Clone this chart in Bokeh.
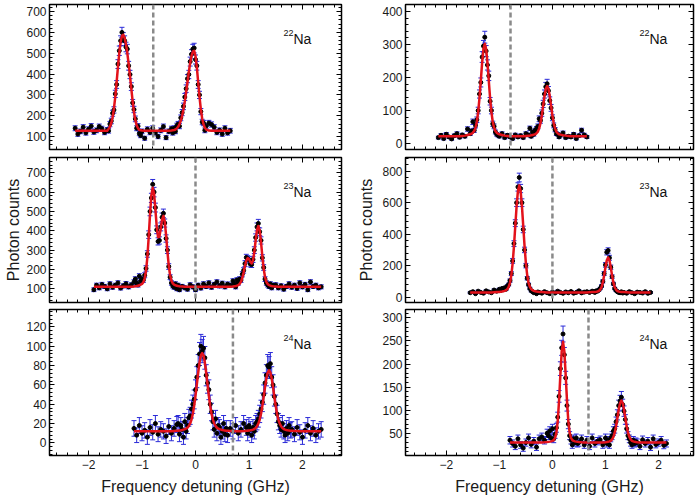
import numpy as np
from bokeh.plotting import figure
from bokeh.models import (Range1d, LinearAxis, Span, Label, SingleIntervalTicker,
                          CustomJSTickFormatter)
from bokeh.layouts import column, row
from bokeh.embed import file_html
from bokeh.resources import INLINE

# ---------------- data ----------------
ISOTOPES = ["22", "23", "24"]
X_LABEL = "Frequency detuning (GHz)"
Y_LABEL = "Photon counts"

# 22Na, left column
L1_x = [-2.25,-2.2,-2.15,-2.1,-2.05,-2.0,-1.95,-1.9,-1.85,-1.8,-1.75,-1.7,-1.65,
        -1.625,-1.6,-1.575,-1.55,-1.525,-1.5,-1.475,-1.45,-1.425,-1.4,-1.375,-1.35,-1.325,-1.3,-1.275,-1.25,-1.225,-1.2,-1.175,-1.15,-1.125,-1.1,-1.075,-1.05,-1.025,-1.0,
        -0.95,-0.9,-0.85,-0.8,-0.75,-0.7,-0.65,-0.6,-0.55,-0.5,-0.45,
        -0.425,-0.4,-0.375,-0.35,-0.325,-0.3,-0.275,-0.25,-0.225,-0.2,-0.175,-0.15,-0.125,-0.1,-0.075,-0.05,-0.025,0.0,0.025,0.05,0.075,0.1,0.125,0.15,0.175,0.2,
        0.25,0.3,0.35,0.4,0.45,0.5,0.55,0.6,0.65]
L1_y = [140,112,125,145,118,135,150,122,130,148,138,120,132,
        128,160,175,212,228,305,350,448,512,560,600,575,560,530,520,440,398,340,262,230,185,140,150,115,105,125,
        92,135,120,140,118,100,130,148,95,125,138,
        118,140,125,152,160,150,190,215,245,290,330,378,398,460,495,520,525,470,440,350,300,220,170,165,130,150,
        165,158,145,120,130,112,140,118,128]
L1_fit = [128,128,128,128,128,128,128,128,128,128,128,128,128,
          137,147,165,193,235,291,361,434,501,554,583,589,573,543,501,449,391,329,269,217,179,154,140,132,130,129,
          128,128,128,128,128,128,128,128,128,128,129,
          130,131,134,139,147,159,176,200,231,269,314,362,409,453,487,508,512,487,432,362,291,231,186,159,142,134,
          129,128,128,128,128,128,128,128,128]

# 22Na, right column
R1_x = [-2.15,-2.1,-2.05,-2.0,-1.95,-1.9,-1.85,-1.8,-1.75,-1.7,-1.65,-1.6,-1.55,
        -1.525,-1.5,-1.475,-1.45,-1.425,-1.4,-1.375,-1.35,-1.325,-1.3,-1.275,-1.25,-1.225,-1.2,-1.175,-1.15,-1.125,-1.1,-1.075,-1.05,-1.025,
        -1.0,-0.95,-0.9,-0.85,-0.8,-0.75,-0.7,-0.65,-0.6,-0.55,-0.5,-0.45,
        -0.425,-0.4,-0.375,-0.35,-0.325,-0.3,-0.275,-0.25,-0.225,-0.2,-0.175,-0.15,-0.125,-0.1,-0.075,-0.05,-0.025,0.0,0.025,0.05,0.075,0.1,0.125,
        0.15,0.2,0.25,0.3,0.35,0.4,0.45,0.5,0.55,0.6,0.65]
R1_y = [18,25,15,28,20,14,24,30,19,26,22,44,30,
        38,66,40,55,72,100,150,185,262,295,322,280,238,205,128,100,60,52,35,28,25,
        22,30,18,25,20,15,26,20,24,18,30,26,
        46,22,35,28,40,45,52,75,70,92,120,150,172,181,160,130,108,78,55,42,30,28,20,
        25,32,18,22,20,28,15,24,40,26,20]
R1_fit = [22,22,22,22,22,22,22,22,22,23,24,26,28,
          30,33,38,48,66,95,138,191,245,287,302,287,245,191,138,95,66,48,38,33,30,
          28,26,24,23,22,22,22,22,22,22,23,24,
          24,25,26,27,28,31,36,46,62,85,114,143,166,174,166,143,114,85,62,46,36,31,28,
          27,25,24,23,22,22,22,22,22,22,22]

# 23Na, left column
L2_x = [-1.9,-1.85,-1.8,-1.75,-1.7,-1.65,-1.6,-1.55,-1.5,-1.45,-1.4,-1.35,-1.3,-1.25,-1.2,-1.15,
        -1.125,-1.1,-1.075,-1.05,-1.025,-1.0,-0.975,-0.95,-0.925,-0.9,-0.875,-0.85,-0.825,-0.8,-0.775,-0.75,-0.725,-0.7,-0.675,-0.65,-0.625,-0.6,-0.575,-0.55,-0.525,-0.5,-0.475,-0.45,-0.425,-0.4,-0.375,-0.35,-0.325,-0.3,
        -0.25,-0.2,-0.15,-0.1,-0.05,0.0,0.05,0.1,0.15,0.2,0.25,0.3,0.35,0.4,0.45,0.5,0.55,0.6,0.65,0.7,
        0.725,0.75,0.775,0.8,0.825,0.85,0.875,0.9,0.925,0.95,0.975,1.0,1.025,1.05,1.075,1.1,1.125,1.15,1.175,1.2,1.225,1.25,1.275,1.3,1.325,1.35,1.375,1.4,1.425,1.45,
        1.5,1.55,1.6,1.65,1.7,1.75,1.8,1.85,1.9,1.95,2.0,2.05,2.1,2.15,2.2,2.25,2.3,2.35]
L2_y = [95,118,105,122,112,100,125,108,118,130,104,115,126,110,120,135,
        150,130,120,165,140,150,145,170,205,280,380,500,570,640,600,520,405,345,350,420,470,490,440,360,300,215,160,130,115,108,125,100,118,95,
        112,105,98,120,110,95,118,104,125,112,130,108,122,135,115,128,110,124,118,140,
        125,110,145,130,150,145,175,195,230,262,255,250,228,225,252,300,365,420,438,395,350,260,210,150,130,120,112,125,105,118,
        120,105,115,98,112,125,108,118,102,130,110,122,95,135,112,118,105,110]
L2_fit = [110,110,110,110,110,110,110,110,110,110,110,110,110,111,111,112,
          113,114,116,118,121,125,134,154,193,264,367,486,584,623,593,510,421,367,369,411,459,477,447,377,293,220,170,142,128,121,118,116,114,113,
          112,111,110,110,110,110,110,110,110,110,110,110,110,110,110,110,110,110,111,112,
          113,114,116,119,125,136,156,185,218,246,259,254,239,231,246,290,351,405,425,401,341,268,204,161,136,124,119,116,114,113,
          112,111,110,110,110,110,110,110,110,110,110,110,110,110,110,110,110,110]

# 23Na, right column
R2_x = [-1.55,-1.5,-1.45,-1.4,-1.35,-1.3,-1.25,-1.2,-1.15,-1.1,-1.05,-1.0,
        -0.975,-0.95,-0.925,-0.9,-0.875,-0.85,-0.825,-0.8,-0.775,-0.75,-0.725,-0.7,-0.675,-0.65,-0.625,-0.6,-0.575,-0.55,-0.525,-0.5,-0.475,-0.45,-0.425,-0.4,-0.375,-0.35,-0.325,-0.3,-0.275,
        -0.25,-0.2,-0.15,-0.1,-0.05,0.0,0.05,0.1,0.15,0.2,0.25,0.3,0.35,0.4,0.45,0.5,0.55,0.6,0.65,0.7,0.75,
        0.775,0.8,0.825,0.85,0.875,0.9,0.925,0.95,0.975,1.0,1.025,1.05,1.075,1.1,1.125,1.15,1.175,1.2,1.225,1.25,1.275,1.3,1.325,
        1.35,1.4,1.45,1.5,1.55,1.6,1.65,1.7,1.75,1.8,1.85]
R2_y = [28,35,22,38,30,25,40,33,28,45,38,50,
        42,55,48,60,50,70,80,105,150,230,340,470,600,700,760,690,600,430,300,200,120,80,55,40,35,28,30,22,33,
        30,25,35,28,22,32,26,38,30,24,33,28,36,25,30,40,27,32,35,30,38,
        35,30,40,38,45,55,70,100,150,205,285,296,250,190,130,85,55,42,35,30,28,34,26,
        30,25,35,28,22,32,30,26,35,24,30]
R2_fit = [30,30,30,30,30,30,30,30,30,31,32,33,
          35,36,38,40,44,51,65,91,139,215,323,452,580,675,710,675,580,452,323,215,139,91,65,51,44,40,38,36,35,
          33,32,31,30,30,30,30,30,30,30,30,30,30,30,30,30,30,30,30,31,32,
          32,33,34,36,39,47,62,92,137,190,234,252,234,190,137,92,62,47,39,36,34,33,32,
          32,31,30,30,30,30,30,30,30,30,30]

# 24Na, left column
L3_x = [-1.15,-1.1,-1.05,-1.0,-0.95,-0.9,-0.85,-0.8,-0.75,-0.7,-0.65,-0.6,-0.55,-0.5,-0.45,-0.4,-0.35,
        -0.325,-0.3,-0.275,-0.25,-0.225,-0.2,-0.175,-0.15,-0.125,-0.1,-0.075,-0.05,-0.025,0.0,0.025,0.05,0.075,0.1,0.125,0.15,0.175,0.2,0.225,0.25,0.275,0.3,0.325,0.35,0.375,0.4,0.425,0.45,0.475,0.5,0.525,0.55,0.575,
        0.6,0.65,0.7,0.75,0.8,0.85,0.9,0.95,
        0.975,1.0,1.025,1.05,1.075,1.1,1.125,1.15,1.175,1.2,1.225,1.25,1.275,1.3,1.325,1.35,1.375,1.4,1.425,1.45,1.475,1.5,1.525,1.55,1.575,1.6,1.625,1.65,1.675,1.7,1.725,1.75,1.775,
        1.8,1.85,1.9,1.95,2.0,2.05,2.1,2.15,2.2,2.25,2.3,2.35]
L3_y = [15,8,18,10,13,6,16,11,20,9,14,12,7,17,10,15,19,
        20,9,18,14,6,22,12,18,26,28,35,40,45,55,68,80,92,100,95,98,88,70,62,55,40,32,22,14,25,10,18,16,6,12,20,9,15,
        8,15,12,18,10,14,20,16,
        10,18,14,8,16,12,20,22,25,30,35,42,50,62,70,80,78,82,68,60,48,40,30,22,18,14,20,12,8,15,10,18,13,
        14,9,16,11,6,13,18,10,15,8,12,14]
L3_fit = [12,12,12,12,12,12,12,12,12,12,12,12,12,12,12.2,12.4,12.6,
          12.7,12.9,13.1,13.4,13.8,14.2,14.9,15.8,17.6,20.1,24.2,30.1,38.3,48.7,60.5,72.6,83.1,90.5,93,90.5,83.1,72.6,60.5,48.7,38.3,30.1,24.2,20.1,17.6,15.8,14.9,14.2,13.8,13.4,13.1,12.9,12.7,
          12.6,12.4,12.3,12.2,12.2,12.2,12.3,12.5,
          12.7,12.9,13.1,13.4,13.8,14.4,15.5,17.3,19.9,24.2,30.2,38.2,47.7,57.7,66.5,72.8,75,72.8,66.5,57.7,47.7,38.2,30.2,24.2,19.9,17.3,15.5,14.4,13.8,13.4,13.1,12.9,12.7,
          12.6,12.4,12.3,12,12,12,12,12,12,12,12,12]

# 24Na, right column
R3_x = [-0.8,-0.75,-0.7,-0.65,-0.6,-0.55,-0.5,-0.45,-0.4,-0.35,-0.3,-0.25,-0.2,-0.15,-0.1,
        -0.075,-0.05,-0.025,0.0,0.025,0.05,0.075,0.1,0.125,0.15,0.175,0.2,0.225,0.25,0.275,0.3,0.325,0.35,0.375,0.4,0.425,0.45,0.475,
        0.5,0.55,0.6,0.65,0.7,0.75,0.8,0.85,0.9,0.95,1.0,
        1.025,1.05,1.075,1.1,1.125,1.15,1.175,1.2,1.225,1.25,1.275,1.3,1.325,1.35,1.375,1.4,1.425,1.45,1.475,1.5,1.525,1.55,1.575,
        1.6,1.65,1.7,1.75,1.8,1.85,1.9,1.95,2.0,2.05,2.1,2.15]
R3_y = [35,28,22,38,25,18,30,40,26,33,20,38,42,35,50,
        45,55,40,60,38,48,62,85,130,190,235,265,220,170,110,70,45,35,25,38,30,40,28,
        30,38,25,35,22,40,28,33,36,25,40,
        28,35,25,40,45,55,60,75,90,110,120,128,112,98,80,60,45,38,30,25,35,28,32,
        30,22,36,28,33,20,38,26,30,35,24,28]
R3_fit = [30,30,30,30,30,30,30,30,30,30,30,30,30.2,30.5,31.1,
          31.5,32,32.6,33.6,35.3,40,51.6,76.5,120.1,176.6,227.3,248,227.3,176.6,120.1,76.5,51.6,40,35.3,33.6,32.6,32,31.5,
          31.1,30.5,30.2,30,30,30,30,30,30.2,30.4,30.8,
          31.1,31.6,32.5,33.9,36.7,42.2,51.5,65.4,83.2,101.6,115.6,121,115.6,101.6,83.2,65.4,51.5,42.2,36.7,33.9,32.5,31.6,31.1,
          30.8,30.4,30.2,30,30,30,30,30,30,30,30,30]

# background added to counts for the statistical error bars
ERR_BG = [0, 0, 0, 0, 50, 30]
# reference (dashed) line positions, GHz
REF_LINES = [-0.79, -0.79, 0.0, 0.0, 0.70, 0.68]
# y-axis tick interval per panel
Y_TICK_STEP = [100, 100, 100, 200, 20, 50]

# ---------------- layout / style ----------------
X_RANGES = [(-2.73, 2.73), (-2.77, 2.66)]
Y_RANGES = [(38, 734), (-18, 421), (29, 779), (-34, 887), (-13, 138), (2, 318)]
FONT = "Liberation Sans"
BLUE = "#2a2ad8"
RED = "#e3121b"
GREY = "#8a8a8a"

PANELS = [
    (L1_x, L1_y, L1_fit), (R1_x, R1_y, R1_fit),
    (L2_x, L2_y, L2_fit), (R2_x, R2_y, R2_fit),
    (L3_x, L3_y, L3_fit), (R3_x, R3_y, R3_fit),
]
for i, (xx, yy, ff) in enumerate(PANELS):
    if not (len(xx) == len(yy) == len(ff)):
        raise SystemExit(f"panel {i}: lengths {len(xx)} {len(yy)} {len(ff)}")

HEIGHTS = [153, 153, 195]
BTOP = [4, 4, 3]
BBOT = [4, 4, 46]
BLEFT = [49, 55]
BRIGHT = [9, 7]
W = 350

blank = "return ''"
minus_fmt = "return (tick < 0 ? '\u2212' : '') + Math.abs(tick).toFixed(0);"


def style_axis(ax, show_labels):
    ax.axis_line_color = None
    ax.major_tick_in = 5
    ax.major_tick_out = 0
    ax.minor_tick_in = 3
    ax.minor_tick_out = 0
    ax.major_tick_line_color = "black"
    ax.minor_tick_line_color = "black"
    ax.major_label_text_font = FONT
    ax.major_label_text_font_size = "12px"
    ax.major_label_text_color = "#1a1a1a"
    ax.axis_label_text_font = FONT
    ax.axis_label_text_font_size = "16px"
    ax.axis_label_text_font_style = "normal"
    ax.axis_label_text_color = "#1a1a1a"
    if not show_labels:
        ax.formatter = CustomJSTickFormatter(code=blank)
        ax.major_label_text_font_size = "0px"
        ax.major_label_standoff = 0


def make_panel(idx):
    r, c = divmod(idx, 2)
    xx, yy, ff = PANELS[idx]
    x0, x1 = X_RANGES[c]
    y0, y1 = Y_RANGES[idx]
    p = figure(width=W, height=HEIGHTS[r], output_backend="svg", toolbar_location=None,
               x_range=Range1d(x0, x1), y_range=Range1d(y0, y1),
               min_border_left=BLEFT[c], min_border_right=BRIGHT[c],
               min_border_top=BTOP[r], min_border_bottom=BBOT[r],
               background_fill_color="white", border_fill_color="white")
    p.grid.visible = False
    p.outline_line_color = "black"
    p.outline_line_width = 1.5

    # bottom axis
    xa = p.xaxis[0]
    xa.ticker = SingleIntervalTicker(interval=1, num_minor_ticks=5)
    style_axis(xa, r == 2)
    if r == 2:
        xa.formatter = CustomJSTickFormatter(code=minus_fmt)
        xa.major_label_standoff = 4
        xa.axis_label = X_LABEL
        xa.axis_label_standoff = 6
    # left axis
    ya = p.yaxis[0]
    ya.ticker = SingleIntervalTicker(interval=Y_TICK_STEP[idx], num_minor_ticks=5)
    style_axis(ya, True)
    ya.major_label_standoff = 3
    if r == 1:
        ya.axis_label = Y_LABEL
        ya.axis_label_standoff = 1 if c == 0 else 4
    # mirrored ticks (top / right)
    top = LinearAxis(ticker=SingleIntervalTicker(interval=1, num_minor_ticks=5))
    style_axis(top, False)
    p.add_layout(top, "above")
    rt = LinearAxis(ticker=SingleIntervalTicker(interval=Y_TICK_STEP[idx], num_minor_ticks=5))
    style_axis(rt, False)
    p.add_layout(rt, "right")

    x = np.array(xx, dtype=float)
    y = np.array(yy, dtype=float)
    err = np.sqrt(y + ERR_BG[idx])
    lo, hi = y - err, y + err

    p.segment(x0=x, y0=lo, x1=x, y1=hi, line_color=BLUE, line_width=1)
    p.scatter(x, hi, marker="dash", size=5, line_color=BLUE, line_width=1)
    p.scatter(x, lo, marker="dash", size=5, line_color=BLUE, line_width=1)
    p.scatter(x, y, size=4, fill_color="black", line_color="black")
    p.line(x, ff, line_color=RED, line_width=2.5, line_join="round")

    p.add_layout(Span(location=REF_LINES[idx], dimension="height", line_color=GREY,
                      line_width=2.5, line_dash="5 3"))

    fw = W - BLEFT[c] - BRIGHT[c]
    fh = HEIGHTS[r] - BTOP[r] - BBOT[r]
    xna = x0 + 244.0 / fw * (x1 - x0)
    yna = y1 - 34.0 / fh * (y1 - y0)
    ysup = y1 - 28.5 / fh * (y1 - y0)
    p.add_layout(Label(x=xna, y=yna, text="Na", text_align="left", text_baseline="alphabetic",
                       text_font=FONT, text_font_size="14px", text_color="#111111"))
    p.add_layout(Label(x=xna, y=ysup, text=ISOTOPES[r], text_align="right",
                       text_baseline="alphabetic", text_font=FONT, text_font_size="9px",
                       text_color="#111111"))
    return p


figs = [make_panel(i) for i in range(6)]
layout = column(row(figs[0], figs[1]), row(figs[2], figs[3]), row(figs[4], figs[5]))

open("out.html", "w").write(file_html(layout, INLINE))
